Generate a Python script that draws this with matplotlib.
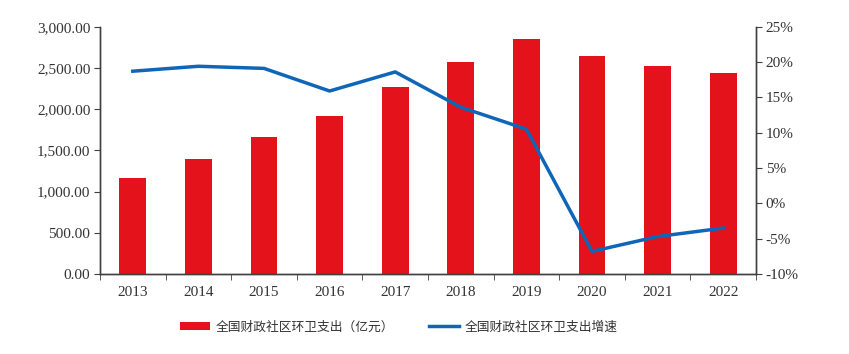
import matplotlib.pyplot as plt
import numpy as np
from matplotlib.ticker import FuncFormatter, FixedLocator

years = ['2013', '2014', '2015', '2016', '2017', '2018', '2019', '2020', '2021', '2022']
spending = [1168, 1391, 1658, 1917, 2272, 2575, 2847, 2645, 2523, 2434]
growth = [18.7, 19.4, 19.1, 15.9, 18.6, 13.6, 10.5, -6.8, -4.7, -3.5]

bar_label = '全国财政社区环卫支出（亿元）'
line_label = '全国财政社区环卫支出增速'

plt.rcParams['font.family'] = ['Liberation Serif', 'Noto Sans CJK SC']

fig = plt.figure(figsize=(8.49, 3.54), dpi=100)
ax = fig.add_axes([100 / 849, 1 - 274 / 354, 656 / 849, (274 - 26.7) / 354])
ax2 = ax.twinx()

x = np.arange(len(years))
bars = ax.bar(x, spending, width=0.41, color='#E3121B', label=bar_label, zorder=2)
line, = ax2.plot(x, growth, color='#0F66B9', linewidth=2.5, label=line_label, zorder=3)

ax.set_xlim(-0.5, len(years) - 0.5)
ax.set_ylim(0, 3000)
ax.set_yticks(np.arange(0, 3001, 500))
ax.yaxis.set_major_formatter(FuncFormatter(lambda v, p: f'{v:,.2f}'))
ax2.set_ylim(-10, 25)
ax2.set_yticks(np.arange(-10, 26, 5))
ax2.yaxis.set_major_formatter(FuncFormatter(lambda v, p: f'{v:.0f}%'))

ax.set_xticks(x)
ax.set_xticklabels(years)
ax.xaxis.set_minor_locator(FixedLocator(np.arange(-0.5, len(years), 1.0)))
ax.tick_params(axis='x', which='major', length=0, pad=9)
ax.tick_params(axis='x', which='minor', length=4, direction='out', color='#404040')
ax.tick_params(axis='y', length=4, direction='out', color='#404040', pad=3)
ax2.tick_params(axis='y', length=4, direction='out', color='#404040', pad=3)

for a in (ax, ax2):
    a.tick_params(labelsize=11, labelcolor='#333333')
    a.spines['top'].set_visible(False)
    for s in ('left', 'right', 'bottom'):
        a.spines[s].set_color('#404040')
        a.spines[s].set_linewidth(1.0)

ax.set_zorder(ax2.get_zorder() - 1)
ax2.patch.set_visible(False)

fig.legend([bars, line], [bar_label, line_label], loc='center',
           bbox_to_anchor=(398.5 / 849, 1 - 327 / 354), ncol=2, frameon=False,
           handlelength=2.4, handleheight=0.55, columnspacing=2.7,
           handletextpad=0.4, labelcolor='#333333',
           prop={'family': ['Noto Sans CJK SC'], 'size': 9.2})

fig.savefig('out.png', dpi=100)
